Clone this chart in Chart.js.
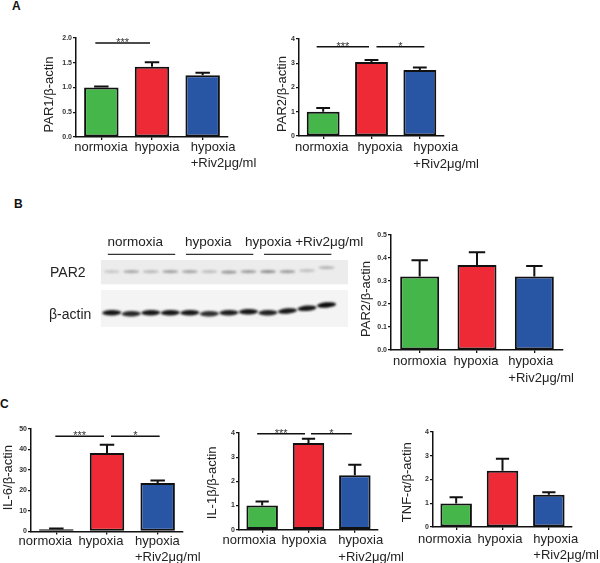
<!DOCTYPE html>
<html>
<head>
<meta charset="utf-8">
<script src="https://cdn.jsdelivr.net/npm/chart.js@4.4.1/dist/chart.umd.min.js"></script>
<style>
  html, body { margin: 0; padding: 0; background: #fff; }
  #fig { position: relative; width: 600px; height: 563px; overflow: hidden; }
  #fig canvas { position: absolute; }
  .tag { position: absolute; font: bold 12px "Liberation Sans", Arial, sans-serif; color: #111; }
</style>
</head>
<body>
<div id="fig">
  <div class="tag" style="left:12px;top:-1px">A</div>
  <div class="tag" style="left:14px;top:197px">B</div>
  <div class="tag" style="left:0px;top:397px">C</div>
  <canvas id="cA1"></canvas>
  <canvas id="cA2"></canvas>
  <canvas id="blot"></canvas>
  <canvas id="cB"></canvas>
  <canvas id="cC1"></canvas>
  <canvas id="cC2"></canvas>
  <canvas id="cC3"></canvas>
</div>
<script>
const FONT = '"Liberation Sans", Arial, sans-serif';

const GROUPS = ["normoxia", "hypoxia", "hypoxia\n+Riv2μg/ml"];
const COLORS = ["#45b649", "#ed2a35", "#2955a5"];

// A: qPCR
const par1Mean = [1.0, 1.42, 1.25];
const par1Err = [0.02, 0.09, 0.05];
const par1Ticks = [0, 0.5, 1.0, 1.5, 2.0];

const par2Mean = [1.0, 3.05, 2.72];
const par2Err = [0.15, 0.08, 0.1];
const par2Ticks = [0, 1, 2, 3, 4];

// B: western blot quantification
const par2WbMean = [0.32, 0.37, 0.32];
const par2WbErr = [0.07, 0.055, 0.045];
const par2WbTicks = [0, 0.1, 0.2, 0.3, 0.4, 0.5];

// C: cytokines
const il6Mean = [1.0, 38.3, 23.6];
const il6Err = [0.4, 4.0, 1.3];
const il6Ticks = [0, 10, 20, 30, 40, 50];

const il1bMean = [1.0, 3.59, 2.25];
const il1bErr = [0.17, 0.17, 0.44];
const il1bTicks = [0, 1, 2, 3, 4];

const tnfMean = [0.99, 2.37, 1.36];
const tnfErr = [0.26, 0.5, 0.1];
const tnfTicks = [0, 1, 2, 3, 4];

// blot lanes: 4 per group
const LANES = [1, 2, 3, 4, 5, 6, 7, 8, 9, 10, 11, 12];
const par2Band = [0.2, 0.38, 0.28, 0.42, 0.4, 0.26, 0.48, 0.44, 0.52, 0.45, 0.24, 0.3];
const par2Lift = [0, 0, 0, 0, 0, 0, -0.5, 0, 0, 0, 1, 4];
const actinBand = [0.95, 0.88, 0.95, 0.95, 0.95, 0.85, 0.92, 0.95, 0.9, 0.95, 0.95, 1];
const actinLift = [0, -1, 0, 0, 0, -1, 0, 1, 0, 1.7, 4.4, 7.7];
const blotGroups = ["normoxia", "hypoxia", "hypoxia +Riv2μg/ml"];

const PANELS = [
  { id: "cA1", mean: par1Mean, err: par1Err, ticks: par1Ticks, dec: 1, title: "PAR1/β-actin",
    axisLeft: 76, axisRight: 228, yTop: 37.7, yZero: 136.7, titleX: 49, titleDy: 7, labelDy: 10,
    shift: [-0.4, 5, -12],
    sig: [{ a: 0, b: 1, y: 1.9, text: "***", d0: -6, d1: -2 }] },
  { id: "cA2", mean: par2Mean, err: par2Err, ticks: par2Ticks, dec: 0, title: "PAR2/β-actin",
    axisLeft: 299, axisRight: 444, yTop: 39, yZero: 136, titleX: 282, titleDy: 6.5, labelDy: 11.5,
    shift: [-1.5, 8.5, -6.5],
    sig: [{ a: 0, b: 1, y: 3.68, text: "***", d0: -6.5, d1: -2.5 },
          { a: 1, b: 2, y: 3.68, text: "*", d0: 5, d1: 4.5 }] },
  { id: "cB", mean: par2WbMean, err: par2WbErr, ticks: par2WbTicks, dec: 1, title: "PAR2/β-actin",
    axisLeft: 391, axisRight: 563, yTop: 235, yZero: 350, titleX: 366, titleDy: 6.5, labelDy: 11.5,
    shift: [0, -1, -26], sig: [] },
  { id: "cC1", mean: il6Mean, err: il6Err, ticks: il6Ticks, dec: 0, title: "IL-6/β-actin",
    axisLeft: 31, axisRight: 183, yTop: 429.3, yZero: 531.7, titleX: 8, titleDy: -2.5, labelDy: 10,
    shift: [-11, -6, -22.7],
    sig: [{ a: 0, b: 1, y: 46.5, text: "***", d0: -1, d1: -3 },
          { a: 1, b: 2, y: 46.5, text: "*", d0: 4, d1: 2 }] },
  { id: "cC2", mean: il1bMean, err: il1bErr, ticks: il1bTicks, dec: 0, title: "IL-1β/β-actin",
    axisLeft: 239, axisRight: 378, yTop: 433.3, yZero: 530, titleX: 212, titleDy: 1.5, labelDy: 11,
    shift: [-13, -4.5, -16.5],
    sig: [{ a: 0, b: 1, y: 3.97, text: "***", d0: -5, d1: -3.5 },
          { a: 1, b: 2, y: 3.97, text: "*", d0: 2.5, d1: -3 }] },
  { id: "cC3", mean: tnfMean, err: tnfErr, ticks: tnfTicks, dec: 0, title: "TNF-α/β-actin",
    axisLeft: 433, axisRight: 572, yTop: 432.3, yZero: 527.3, titleX: 407, titleDy: 2.7, labelDy: 12,
    shift: [-11.5, -2.5, -15.5], sig: [] },
];

// error bars, significance lines, category labels and rotated y title
const prismPlugin = {
  id: "prism",
  afterDatasetsDraw(chart) {
    const p = chart.options.plugins.prism;
    const ctx = chart.ctx;
    const x = chart.scales.x;
    const y = chart.scales.y;
    const area = chart.chartArea;
    const bars = chart.getDatasetMeta(0).data;
    ctx.save();
    ctx.strokeStyle = "#111";
    ctx.lineWidth = 2;
    bars.forEach((bar, i) => {
      const top = y.getPixelForValue(p.mean[i]);
      const hi = y.getPixelForValue(p.mean[i] + p.err[i]);
      const cap = bar.width * 0.21;
      ctx.beginPath();
      ctx.moveTo(bar.x, top);
      ctx.lineTo(bar.x, hi);
      ctx.moveTo(bar.x - cap, hi);
      ctx.lineTo(bar.x + cap, hi);
      ctx.stroke();
    });

    ctx.lineWidth = 1.5;
    ctx.fillStyle = "#333";
    ctx.font = "11px " + FONT;
    ctx.textAlign = "center";
    ctx.textBaseline = "alphabetic";
    p.sig.forEach((s) => {
      const x0 = x.getPixelForValue(s.a) + s.d0;
      const x1 = x.getPixelForValue(s.b) + s.d1;
      const yy = y.getPixelForValue(s.y);
      ctx.beginPath();
      ctx.moveTo(x0, yy);
      ctx.lineTo(x1, yy);
      ctx.stroke();
      ctx.fillText(s.text, (x0 + x1) / 2, yy + 3);
    });

    ctx.fillStyle = "#222";
    ctx.font = "13px " + FONT;
    ctx.textBaseline = "middle";
    GROUPS.forEach((g, i) => {
      const lines = g.split("\n");
      const cx = x.getPixelForValue(i) + p.shift[i];
      ctx.textAlign = lines.length > 1 ? "left" : "center";
      lines.forEach((ln, k) => {
        ctx.fillText(ln, cx, area.bottom + p.labelDy + k * 16.5);
      });
    });

    ctx.translate(p.titleX, (area.top + area.bottom) / 2 + p.titleDy);
    ctx.rotate(-Math.PI / 2);
    ctx.textAlign = "center";
    ctx.fillText(p.title, 0, 0);
    ctx.restore();
  },
};

function barPanel(cfg) {
  const left = cfg.titleX - 10;
  const top = cfg.yTop - 16;
  const w = Math.round(cfg.axisRight + 42 - left);
  const h = Math.round(cfg.yZero - top + 42);
  const el = document.getElementById(cfg.id);
  el.width = w;
  el.height = h;
  el.style.left = left + "px";
  el.style.top = top + "px";
  const padRight = w - (cfg.axisRight - left);
  const padBottom = h - (cfg.yZero - top);

  new Chart(el.getContext("2d"), {
    type: "bar",
    data: {
      labels: GROUPS,
      datasets: [{
        data: cfg.mean,
        backgroundColor: COLORS,
        borderColor: "#111",
        borderWidth: 2,
        borderSkipped: false,
        barPercentage: 0.68,
        categoryPercentage: 1,
      }],
    },
    options: {
      responsive: false,
      animation: false,
      devicePixelRatio: 1,
      layout: { padding: { top: 16, right: padRight, left: 0, bottom: 0 } },
      plugins: {
        legend: { display: false },
        tooltip: { enabled: false },
        prism: {
          mean: cfg.mean, err: cfg.err, sig: cfg.sig, shift: cfg.shift, title: cfg.title,
          titleX: cfg.titleX - left, titleDy: cfg.titleDy, labelDy: cfg.labelDy,
        },
      },
      scales: {
        x: {
          offset: true,
          grid: { display: true, offset: false, drawOnChartArea: false, tickLength: 3, color: "#111", lineWidth: 1.3 },
          border: { color: "#111", width: 1.5 },
          ticks: { display: false },
          afterFit(s) { s.height = padBottom; },
        },
        y: {
          min: 0,
          max: cfg.ticks[cfg.ticks.length - 1],
          afterBuildTicks(s) { s.ticks = cfg.ticks.map((v) => ({ value: v })); },
          grid: { drawOnChartArea: false, tickLength: 3, color: "#111", lineWidth: 1.2 },
          border: { color: "#111", width: 1.5 },
          ticks: {
            color: "#333",
            padding: 1,
            font: { family: FONT, size: 7, weight: "bold" },
            callback: (v) => Number(v).toFixed(cfg.dec),
          },
          afterFit(s) { s.width = cfg.axisLeft - left; },
        },
      },
    },
    plugins: [prismPlugin],
  });
}

PANELS.forEach(barPanel);

// western blot strip
const blotPlugin = {
  id: "blot",
  beforeDatasetsDraw(chart) {
    const ctx = chart.ctx;
    const x = chart.scales.x;
    const y = chart.scales.y;
    const bx0 = x.getPixelForValue(0.45);
    const bx1 = x.getPixelForValue(13.1);
    ctx.save();
    // membrane backgrounds
    ctx.fillStyle = "#ececec";
    ctx.fillRect(bx0, y.getPixelForValue(2), bx1 - bx0, y.getPixelForValue(26.3) - y.getPixelForValue(2));
    ctx.fillStyle = "#f4f4f4";
    ctx.fillRect(bx0, y.getPixelForValue(32), bx1 - bx0, y.getPixelForValue(69) - y.getPixelForValue(32));

    ctx.filter = "blur(0.9px)";
    LANES.forEach((lane, i) => {
      const cx = x.getPixelForValue(lane);
      const py = y.getPixelForValue(13.7 - par2Lift[i]);
      ctx.fillStyle = `rgba(60,60,60,${par2Band[i]})`;
      ctx.beginPath();
      ctx.ellipse(cx, py, 8, 1.6, 0, 0, Math.PI * 2);
      ctx.fill();

      const ay = y.getPixelForValue(54.7 - actinLift[i]);
      const tilt = i >= 9 ? -0.08 : -0.02;
      ctx.fillStyle = `rgba(10,10,10,${actinBand[i]})`;
      ctx.beginPath();
      ctx.ellipse(cx, ay, 9.6, 2.7, tilt, 0, Math.PI * 2);
      ctx.fill();
    });
    ctx.filter = "none";

    // group headers and underlines
    ctx.fillStyle = "#222";
    ctx.strokeStyle = "#333";
    ctx.lineWidth = 1.2;
    ctx.font = "13.5px " + FONT;
    ctx.textBaseline = "middle";
    const headY = y.getPixelForValue(-15.7);
    const ruleY = y.getPixelForValue(-3.7);
    ctx.textAlign = "center";
    ctx.fillText(blotGroups[0], x.getPixelForValue(2.2), headY);
    ctx.fillText(blotGroups[1], x.getPixelForValue(5.94), headY);
    ctx.textAlign = "left";
    ctx.fillText(blotGroups[2], x.getPixelForValue(7.82), headY);
    [[1, 4], [5, 8], [9, 12]].forEach(([a, b]) => {
      ctx.beginPath();
      ctx.moveTo(x.getPixelForValue(a - 0.2), ruleY);
      ctx.lineTo(x.getPixelForValue(b + 0.25), ruleY);
      ctx.stroke();
    });

    ctx.font = "14px " + FONT;
    ctx.textAlign = "left";
    ctx.fillText("PAR2", 50, y.getPixelForValue(15.3));
    ctx.fillText("β-actin", 49, y.getPixelForValue(57));
    ctx.restore();
  },
};

(function drawBlot() {
  const el = document.getElementById("blot");
  el.width = 372;
  el.height = 100;
  el.style.left = "0px";
  el.style.top = "230px";
  new Chart(el.getContext("2d"), {
    type: "scatter",
    data: { datasets: [{ data: LANES.map((l) => ({ x: l, y: 0 })), pointRadius: 0 }] },
    options: {
      responsive: false,
      animation: false,
      devicePixelRatio: 1,
      layout: { padding: { left: 101, right: 372 - 348, top: 28, bottom: 0 } },
      plugins: { legend: { display: false }, tooltip: { enabled: false } },
      scales: {
        x: { type: "linear", min: 0.45, max: 13.1, display: false },
        y: { type: "linear", min: 0, max: 72, reverse: true, display: false },
      },
    },
    plugins: [blotPlugin],
  });
})();
</script>
</body>
</html>
